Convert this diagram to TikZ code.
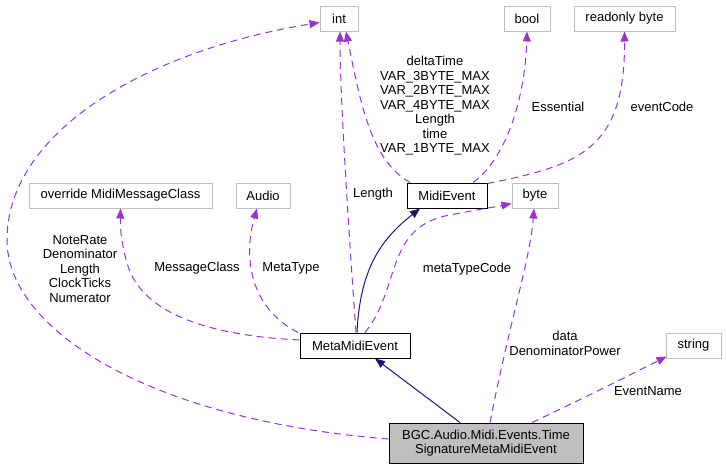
\documentclass[tikz,border=0pt]{standalone}
\usepackage{fontspec}
\setmainfont{Liberation Sans}
\usetikzlibrary{arrows.meta}
\definecolor{edgepurple}{HTML}{9A32CD}
\definecolor{edgenavy}{HTML}{191970}
\definecolor{boxgray}{HTML}{BFBFBF}
\tikzset{
  cls/.style={draw=boxgray, line width=1pt, minimum height=25pt, inner sep=0pt,
    font=\fontsize{13}{14.5}\selectfont},
  base/.style={cls, draw=black},
  member/.style={edgepurple, line width=1pt, dash pattern=on 7pt off 5pt,
    -{Triangle[length=10pt,width=8pt]}},
  inherit/.style={edgenavy, line width=1pt, -{Triangle[length=10pt,width=8pt]}},
  lbl/.style={align=center, inner sep=0pt, font=\fontsize{13}{14.5}\selectfont}
}
\begin{document}
\begin{tikzpicture}[x=1pt,y=-1pt]
  \useasboundingbox (0,0) rectangle (727,469);
  % classes
  \node[cls, minimum width=38pt] (int) at (339,18.5) {int};
  \node[cls, minimum width=46pt] (bool) at (527,18.5) {bool};
  \node[cls, minimum width=101pt] (rbyte) at (624.5,18.5) {readonly byte};
  \node[cls, minimum width=183pt] (msgclass) at (120.5,195.5) {override MidiMessageClass};
  \node[cls, minimum width=54pt] (audio) at (263,195.5) {Audio};
  \node[base, minimum width=80pt] (midievent) at (447,195.5) {MidiEvent};
  \node[cls, minimum width=46pt] (byte) at (535,195.5) {byte};
  \node[base, minimum width=110pt] (meta) at (355,345.5) {MetaMidiEvent};
  \node[cls, minimum width=55pt] (string) at (693.5,345.5) {string};
  \node[base, fill=boxgray, minimum width=194pt, minimum height=40pt, align=center]
    (tsig) at (486,443) {BGC.Audio.Midi.Events.Time\\SignatureMetaMidiEvent};
  % usage edges
  \draw[member] (tsig.west |- 0,439) .. controls (150,420) and (7,330) .. (7,240)
    .. controls (7,130) and (150,50) .. ([yshift=-4pt]int.west);
  \draw[member] (meta.north -| 356,0) .. controls (350,250) and (340,100) .. (int.south -| 340,0);
  \draw[member] (midievent.north -| 410,0) .. controls (370,160) and (360,100) .. (int.south -| 346,0);
  \draw[member] (midievent.north -| 473,0) .. controls (505,160) and (525,100) .. (bool.south);
  \draw[member] ([yshift=-1pt]midievent.north east) .. controls (580,165) and (625,150) .. (rbyte.south);
  \draw[member] (meta.north -| 365,0) .. controls (400,290) and (385,230) .. (445,216)
    .. controls (475,210) and (495,207) .. ([yshift=-8pt]byte.west);
  \draw[member] (meta.west |- 0,340) .. controls (200,335) and (140,310) .. (127,263)
    .. controls (122,245) and (120,230) .. (msgclass.south);
  \draw[member] (meta.north -| 298,0) .. controls (245,305) and (245,250) .. (audio.south -| 257,0);
  \draw[member] (tsig.north -| 490,0) .. controls (510,320) and (530,260) .. (byte.south -| 534,0);
  \draw[member] (tsig.north -| 532,0) .. controls (580,400) and (630,375) .. ([xshift=-27pt,yshift=2pt]string.south);
  % inheritance edges
  \draw[inherit] (meta.north -| 357,0) .. controls (360,270) and (380,240) .. (midievent.south -| 420,0);
  \draw[inherit] (tsig.north -| 460,0) -- (meta.south -| 375,0);
  % labels
  \node[lbl] (lblint) at (80,269) {NoteRate\\Denominator\\Length\\ClockTicks\\Numerator};
  \node[lbl] (lbllen) at (373,194) {Length};
  \node[lbl] (lblmidi) at (435,106) {deltaTime\\VAR\_3BYTE\_MAX\\VAR\_2BYTE\_MAX\\VAR\_4BYTE\_MAX\\Length\\time\\VAR\_1BYTE\_MAX};
  \node[lbl] (lblbool) at (558,107) {Essential};
  \node[lbl] (lblcode) at (662,107) {eventCode};
  \node[lbl] (lblmsg) at (197,268) {MessageClass};
  \node[lbl] (lbltype) at (291,268) {MetaType};
  \node[lbl] (lbltc) at (467,269) {metaTypeCode};
  \node[lbl] (lbldata) at (565,343.5) {data\\DenominatorPower};
  \node[lbl] (lblname) at (648,391) {EventName};
\end{tikzpicture}
\end{document}
